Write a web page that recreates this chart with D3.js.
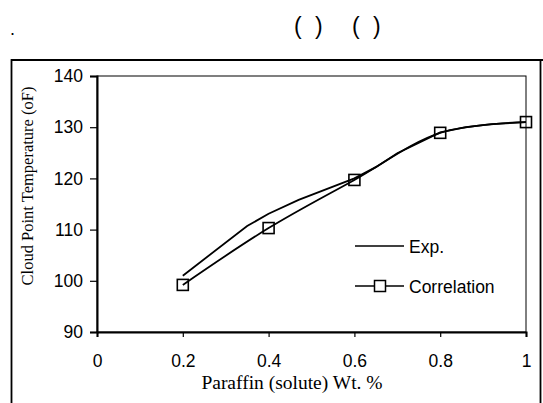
<!DOCTYPE html>
<html lang="en">
<head>
<meta charset="UTF-8">
<title>Cloud Point Temperature</title>
<script src="https://d3js.org/d3.v7.min.js"></script>
<style>
    body { margin: 0; background: #fff; }
    svg { display: block; }
    .tick text { font-family: 'Liberation Sans', Arial, sans-serif; font-size: 17.5px; fill: #000; }
    .title { font-family: 'Liberation Serif', 'Times New Roman', serif; }
    .legend { font-family: 'Liberation Sans', Arial, sans-serif; font-size: 17.5px; }
    .head { font-family: 'Liberation Sans', Arial, sans-serif; font-size: 23px; }
</style>
</head>
<body>
<div id="chart"></div>
<script>
    // values
    var expX = [0.2, 0.35, 0.4, 0.47, 0.6, 0.65, 0.7, 0.8, 0.86, 0.92, 1.0];
    var expY = [101, 110.7, 113.1, 115.8, 120, 122.2, 124.9, 129, 130, 130.6, 131];
    var corrX = [0.2, 0.4, 0.6, 0.8, 1.0];
    var corrY = [99.2, 110.3, 119.7, 128.9, 131];
    var xTicks = [0, 0.2, 0.4, 0.6, 0.8, 1];
    var yTicks = [90, 100, 110, 120, 130, 140];
    var seriesNames = ["Exp.", "Correlation"];

    var width = 543, height = 403;
    var svg = d3.select("#chart").append("svg")
        .attr("width", width)
        .attr("height", height);

    // header text line (only the brackets survive)
    svg.append("text").attr("x", 10).attr("y", 35)
        .style("font-family", "Liberation Sans, Arial, sans-serif").style("font-size", "18px").text(".");
    [["(", 294], [")", 315], ["(", 352], [")", 373]].forEach(function (p) {
        svg.append("text").attr("class", "head").attr("x", p[1]).attr("y", 34).text(p[0]);
    });

    // outer frame
    svg.append("rect")
        .attr("x", 11.5).attr("y", 60)
        .attr("width", 529).attr("height", 360)
        .attr("fill", "none").attr("stroke", "#000").attr("stroke-width", 1.8);
    svg.append("line").attr("x1", 11).attr("x2", 543).attr("y1", 60).attr("y2", 60)
        .attr("stroke", "#000").attr("stroke-width", 1.8);

    var x = d3.scaleLinear().domain([0, 1]).range([97, 526]);
    var y = d3.scaleLinear().domain([90, 140]).range([332, 76]);

    // plot box
    svg.append("rect")
        .attr("x", x(0)).attr("y", y(140))
        .attr("width", x(1) - x(0)).attr("height", y(90) - y(140))
        .attr("fill", "none").attr("stroke", "#000").attr("stroke-width", 1);

    var xAxis = svg.append("g")
        .attr("transform", "translate(0," + y(90) + ")")
        .call(d3.axisBottom(x).tickValues(xTicks).tickSize(5).tickPadding(18)
            .tickFormat(d3.format("")));
    var yAxis = svg.append("g")
        .attr("transform", "translate(" + x(0) + ",0)")
        .call(d3.axisLeft(y).tickValues(yTicks).tickSize(7).tickPadding(7));
    [xAxis, yAxis].forEach(function (g) {
        g.select(".domain").attr("stroke-width", 2);
        g.selectAll(".tick line").attr("stroke-width", 1.2);
    });

    // axis titles
    svg.append("text").attr("class", "title")
        .style("font-size", "19.5px")
        .attr("x", 292).attr("y", 389).attr("text-anchor", "middle")
        .text("Paraffin (solute) Wt. %");
    svg.append("text").attr("class", "title")
        .style("font-size", "16.5px")
        .attr("transform", "translate(33,186) rotate(-90)")
        .attr("text-anchor", "middle")
        .text("Cloud Point Temperature (oF)");

    var expLine = d3.line().x(function (d) { return x(d[0]); }).y(function (d) { return y(d[1]); });
    var corrLine = d3.line().curve(d3.curveCatmullRom)
        .x(function (d) { return x(d[0]); }).y(function (d) { return y(d[1]); });
    var expData = d3.zip(expX, expY);
    var corrData = d3.zip(corrX, corrY);

    svg.append("path").datum(expData)
        .attr("d", expLine).attr("fill", "none").attr("stroke", "#000").attr("stroke-width", 1.8);
    svg.append("path").datum(corrData)
        .attr("d", corrLine).attr("fill", "none").attr("stroke", "#000").attr("stroke-width", 1.8);

    svg.selectAll("rect.marker").data(corrData).enter().append("rect")
        .attr("class", "marker")
        .attr("x", function (d) { return x(d[0]) - 5.5; })
        .attr("y", function (d) { return y(d[1]) - 5.5; })
        .attr("width", 11).attr("height", 11)
        .attr("fill", "none").attr("stroke", "#000").attr("stroke-width", 1.6);

    // legend
    var lg = svg.append("g");
    lg.append("line").attr("x1", 355).attr("x2", 404).attr("y1", 246).attr("y2", 246)
        .attr("stroke", "#000").attr("stroke-width", 1.5);
    lg.append("text").attr("class", "legend").attr("x", 409).attr("y", 253).text(seriesNames[0]);
    lg.append("line").attr("x1", 355).attr("x2", 404).attr("y1", 286).attr("y2", 286)
        .attr("stroke", "#000").attr("stroke-width", 1.5);
    lg.append("rect").attr("x", 374.5).attr("y", 280.5).attr("width", 11).attr("height", 11)
        .attr("fill", "#fff").attr("stroke", "#000").attr("stroke-width", 1.5);
    lg.append("text").attr("class", "legend").attr("x", 409).attr("y", 293).text(seriesNames[1]);
</script>
</body>
</html>
